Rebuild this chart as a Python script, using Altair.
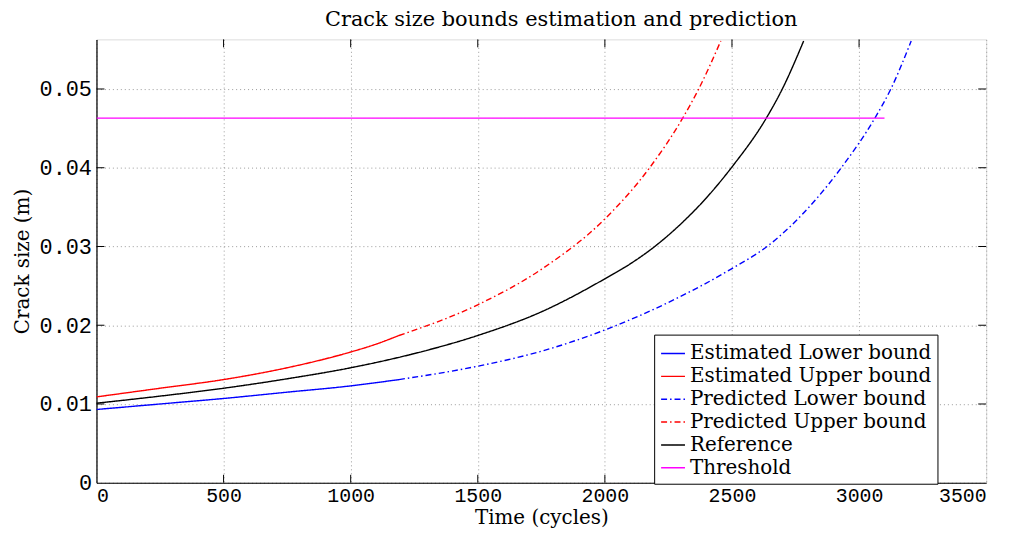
import altair as alt
import pandas as pd

# ---- data ----
series_names = ["Estimated Lower bound", "Estimated Upper bound",
                "Predicted Lower bound", "Predicted Upper bound",
                "Reference", "Threshold"]

est_lower_t = [0, 250, 500, 750, 1000, 1190]
est_lower_v = [0.0093, 0.0100, 0.0107, 0.0115, 0.0123, 0.0131]

est_upper_t = [0, 250, 500, 750, 1000, 1100, 1190]
est_upper_v = [0.0109, 0.0120, 0.0131, 0.0146, 0.0166, 0.0176, 0.0187]

pred_lower_t = [1190, 1500, 1750, 2000, 2250, 2500, 2638, 2828, 2930, 3062, 3125, 3205]
pred_lower_v = [0.0131, 0.0148, 0.0167, 0.0194, 0.0229, 0.0272, 0.0300, 0.0359, 0.0400, 0.0463, 0.0500, 0.0561]

pred_upper_t = [1190, 1500, 1750, 2000, 2176, 2306, 2369, 2456]
pred_upper_v = [0.0187, 0.0226, 0.0271, 0.0335, 0.0400, 0.0463, 0.0500, 0.0561]

ref_t = [0, 250, 500, 750, 1000, 1250, 1500, 1750, 2000, 2100, 2200, 2300, 2400, 2500, 2635, 2698, 2782]
ref_v = [0.0101, 0.0110, 0.0120, 0.0132, 0.0146, 0.0164, 0.0187, 0.0217, 0.0259, 0.0278, 0.0301, 0.0329, 0.0362, 0.0401, 0.0463, 0.0500, 0.0561]

thr_t = [0, 3100]
thr_v = [0.0463, 0.0463]

x_ticks = [0, 500, 1000, 1500, 2000, 2500, 3000, 3500]
y_ticks = [0, 0.01, 0.02, 0.03, 0.04, 0.05]

colors = ["#0000ff", "#ff0000", "#0000ff", "#ff0000", "#000000", "#ff00ff"]
dashes = [[1, 0], [1, 0], [6, 3, 1.5, 3], [6, 3, 1.5, 3], [1, 0], [1, 0]]

# ---- build table ----
rows = []
for name, ts, vs in zip(series_names,
                        [est_lower_t, est_upper_t, pred_lower_t, pred_upper_t, ref_t, thr_t],
                        [est_lower_v, est_upper_v, pred_lower_v, pred_upper_v, ref_v, thr_v]):
    for i, (t, v) in enumerate(zip(ts, vs)):
        rows.append({"series": name, "t": t, "v": v, "i": i})
df = pd.DataFrame(rows)

W, H = 895, 446
xs = alt.Scale(domain=[0, 3500], nice=False, zero=False)
ys = alt.Scale(domain=[0, 0.0563], nice=False, zero=False)

lines = alt.Chart(df).mark_line(strokeWidth=1.4, clip=True, interpolate="monotone").encode(
    x=alt.X("t:Q", scale=xs,
            axis=alt.Axis(title="Time (cycles)", values=x_ticks, format="d", grid=True,
                          gridDash=[1, 3], gridColor="#9a9a9a", gridWidth=1,
                          ticks=False, labelFont="Liberation Mono", labelFontSize=20,
                          labelColor="#000", labelPadding=3,
                          titleFont="DejaVu Serif", titleFontSize=20, titleFontWeight="normal",
                          titleColor="#000", titlePadding=2,
                          domainColor="#000", domainWidth=1.2)),
    y=alt.Y("v:Q", scale=ys,
            axis=alt.Axis(title="Crack size (m)", values=y_ticks, format="~g", grid=True,
                          gridDash=[1, 3], gridColor="#9a9a9a", gridWidth=1,
                          ticks=False, labelFont="Liberation Mono", labelFontSize=22,
                          labelColor="#000", labelPadding=5,
                          titleFont="DejaVu Serif", titleFontSize=20, titleFontWeight="normal",
                          titleColor="#000", titlePadding=7,
                          domainColor="#000", domainWidth=1.2)),
    color=alt.Color("series:N",
                    scale=alt.Scale(domain=series_names, range=colors),
                    sort=series_names,
                    legend=alt.Legend(title=None, orient="none", legendX=561, legendY=297,
                                      strokeColor="#000", fillColor="#fff", padding=6,
                                      labelFont="DejaVu Serif", labelFontSize=20,
                                      labelColor="#000", labelOffset=4,
                                      symbolType="stroke", symbolSize=576,
                                      symbolStrokeWidth=1.5, rowPadding=-2,
                                      labelLimit=400)),
    strokeDash=alt.StrokeDash("series:N",
                              scale=alt.Scale(domain=series_names, range=dashes),
                              sort=series_names, legend=None),
    order="i:Q",
)

tick_x_df = pd.DataFrame({"t": x_ticks[1:-1]})
tick_y_df = pd.DataFrame({"v": y_ticks[1:]})

tick_bottom = alt.Chart(tick_x_df).mark_rule(color="#000", strokeWidth=1).encode(
    x=alt.X("t:Q", scale=xs), y=alt.value(H), y2=alt.value(H - 8))
tick_top = alt.Chart(tick_x_df).mark_rule(color="#000", strokeWidth=1).encode(
    x=alt.X("t:Q", scale=xs), y=alt.value(0), y2=alt.value(8))
tick_left = alt.Chart(tick_y_df).mark_rule(color="#000", strokeWidth=1).encode(
    y=alt.Y("v:Q", scale=ys), x=alt.value(0), x2=alt.value(8))
tick_right = alt.Chart(tick_y_df).mark_rule(color="#000", strokeWidth=1).encode(
    y=alt.Y("v:Q", scale=ys), x=alt.value(W), x2=alt.value(W - 8))

chart = alt.layer(lines, tick_bottom, tick_top, tick_left, tick_right).properties(
    width=W, height=H,
    title=alt.TitleParams("Crack size bounds estimation and prediction",
                          font="DejaVu Serif", fontSize=21, fontWeight="normal",
                          color="#000", offset=9, dx=20),
    autosize=alt.AutoSizeParams(type="none"),
    padding={"left": 89, "top": 30, "right": 30, "bottom": 50},
).configure_view(stroke="#000", strokeWidth=1.2).configure(background="#fff")

chart.save("out.html", embed_options={"renderer": "svg", "actions": False})
